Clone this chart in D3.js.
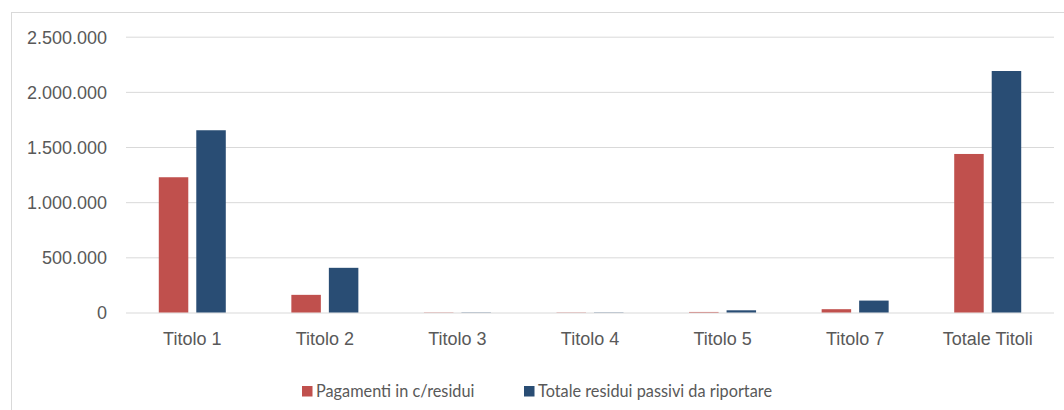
<!DOCTYPE html>
<html>
<head>
<meta charset="utf-8">
<script src="https://cdn.jsdelivr.net/npm/d3@7"></script>
<style>
  html, body { margin: 0; padding: 0; background: #fff; }
  svg { display: block; font-family: Lato, "Open Sans", sans-serif; }
</style>
</head>
<body>
<svg id="chart" width="1064" height="410"></svg>
<script>
// Categories and the two series (values in euro)
const categories = ["Titolo 1", "Titolo 2", "Titolo 3", "Titolo 4", "Titolo 5", "Titolo 7", "Totale Titoli"];
const pagamenti = [1226000, 160000, 2000, 2000, 5000, 30000, 1437000];
const residui = [1652000, 405000, 2000, 2000, 20000, 108000, 2189000];
const seriesNames = ["Pagamenti in c/residui", "Totale residui passivi da riportare"];
const yTicks = [0, 500000, 1000000, 1500000, 2000000, 2500000];

const colors = ["#C0504D", "#294D74"];
const textColor = "#595959";
const gridColor = "#D9D9D9";

const svg = d3.select("#chart");

// Outer chart frame
svg.append("rect")
  .attr("x", 11.5).attr("y", 12.5)
  .attr("width", 1100).attr("height", 450)
  .attr("fill", "none").attr("stroke", gridColor).attr("stroke-width", 1);

const plot = { left: 126, right: 1054, top: 36.7, bottom: 312.5 };

const x = d3.scaleBand().domain(categories).range([plot.left, plot.right]).padding(0);
const y = d3.scaleLinear().domain([0, 2500000]).range([plot.bottom, plot.top]);

const fmt = d3.formatLocale({ decimal: ",", thousands: ".", grouping: [3], currency: ["€", ""] }).format(",d");

// Horizontal gridlines and y tick labels
const yAxis = d3.axisLeft(y).tickValues(yTicks).tickFormat(fmt)
  .tickSize(-(plot.right - plot.left)).tickPadding(19);
const gy = svg.append("g").attr("transform", `translate(${plot.left},0)`).call(yAxis);
gy.select(".domain").remove();
gy.selectAll(".tick line").attr("stroke", gridColor).attr("stroke-width", 1);
gy.selectAll(".tick text")
  .attr("fill", textColor).attr("font-size", 18).attr("dy", "0.36em");

// Category labels
const xAxis = d3.axisBottom(x).tickSize(0).tickPadding(20);
const gx = svg.append("g").attr("transform", `translate(0,${plot.bottom})`).call(xAxis);
gx.select(".domain").remove();
gx.selectAll(".tick text").attr("fill", textColor).attr("font-size", 18);

// Bars: two per category
const barW = 29.5, gap = 8;
const inner = d3.scaleOrdinal().domain([0, 1]).range([-gap / 2 - barW, gap / 2]);
const seriesData = [pagamenti, residui];

seriesData.forEach((vals, si) => {
  svg.append("g").selectAll("rect")
    .data(categories.map((c, i) => ({ c, v: vals[i] })))
    .join("rect")
    .attr("x", d => x(d.c) + x.bandwidth() / 2 + inner(si))
    .attr("y", d => y(d.v))
    .attr("width", barW)
    .attr("height", d => y(0) - y(d.v))
    .attr("fill", colors[si]);
});

// Legend
const legendX = [302, 524];
const lg = svg.append("g");
seriesNames.forEach((name, i) => {
  lg.append("rect")
    .attr("x", legendX[i]).attr("y", 386)
    .attr("width", 10.5).attr("height", 10.5)
    .attr("fill", colors[i]);
  lg.append("text")
    .attr("x", legendX[i] + 14).attr("y", 397)
    .attr("fill", textColor).attr("font-size", 16.3)
    .text(name);
});
</script>
</body>
</html>
